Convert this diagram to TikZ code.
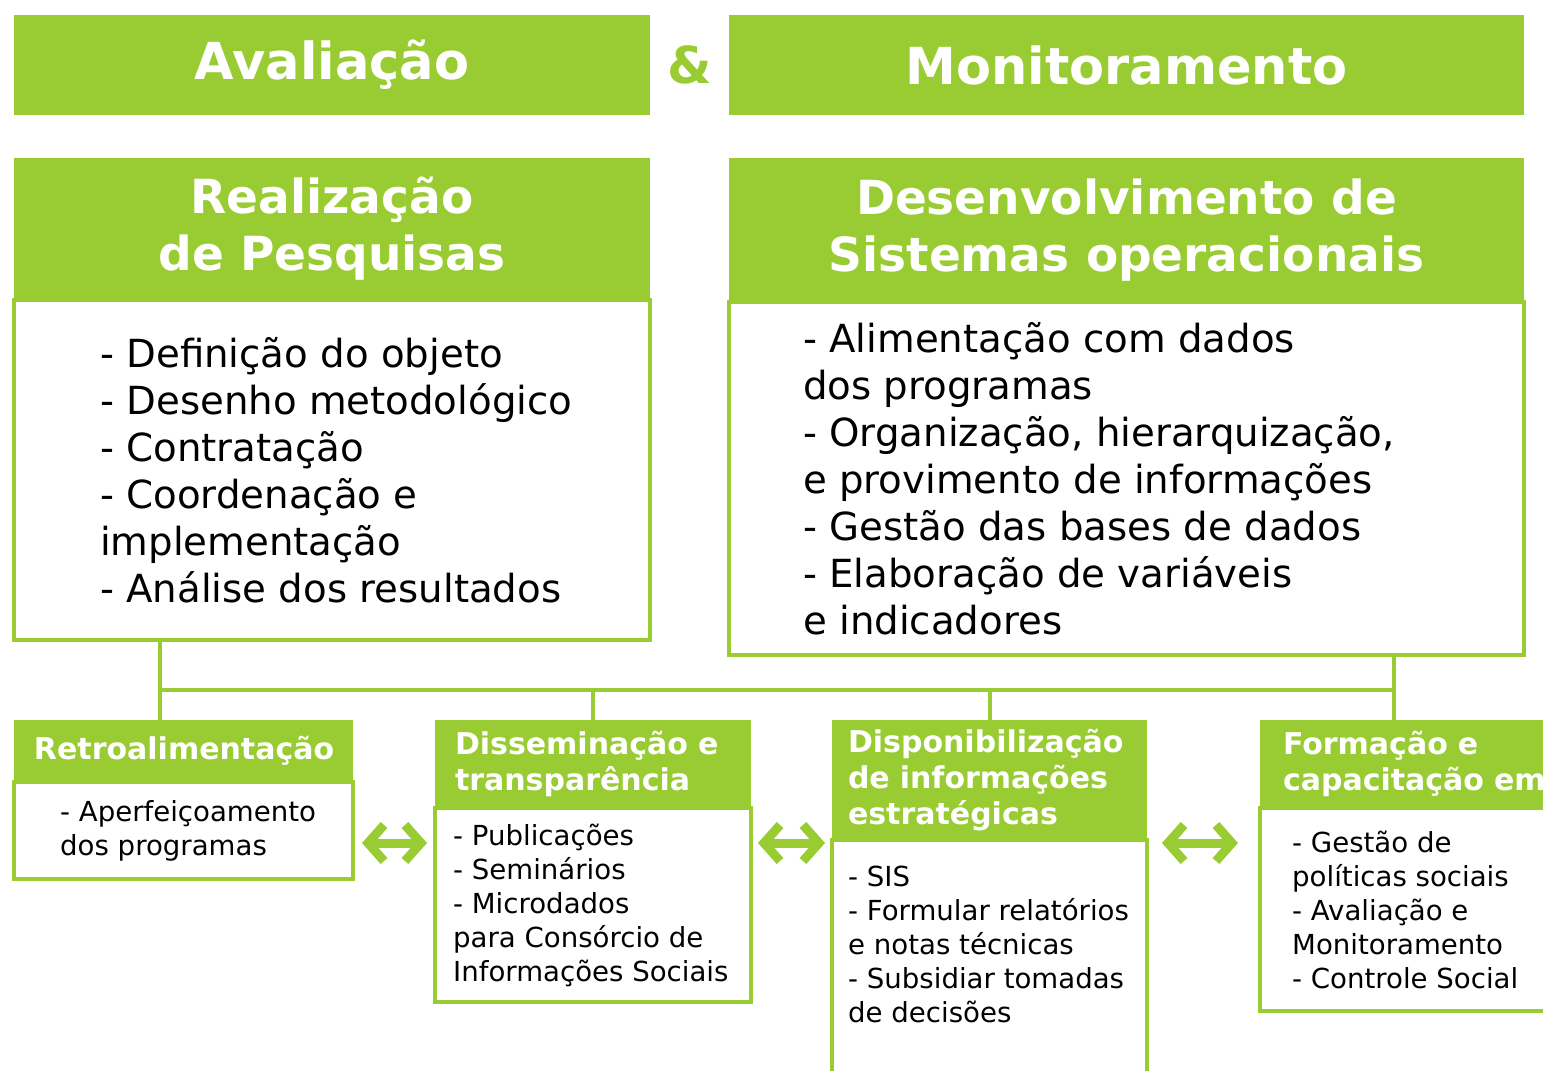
\documentclass[tikz,border=0pt]{standalone}
\usepackage{fontspec}
\setmainfont{DejaVu Sans}
\usetikzlibrary{arrows.meta, positioning, calc}
\definecolor{leafgreen}{RGB}{153,204,51}
\newcommand{\Fsz}[2]{\fontsize{#1}{#2}\selectfont}
\tikzset{
    titlebar/.style={fill=leafgreen, text=white, font=\bfseries\Fsz{51}{60}, align=center, inner sep=0pt, outer sep=0pt, anchor=north west},
    hdr/.style={fill=leafgreen, text=white, font=\bfseries\Fsz{47}{57}, align=center, inner sep=0pt, outer sep=0pt, anchor=north west},
    tabhdr/.style={fill=leafgreen, text=white, font=\bfseries\Fsz{30}{36}, align=left, inner ysep=0pt, outer sep=0pt, anchor=north west},
    panel/.style={draw=leafgreen, line width=4pt, fill=white, inner sep=0pt, outer sep=0pt, anchor=north west},
    bigtxt/.style={text=black, font=\Fsz{38.7}{47}, align=left, inner sep=0pt, anchor=west},
    smalltxt/.style={text=black, font=\Fsz{27.6}{34}, align=left, inner sep=0pt, anchor=west},
    busline/.style={draw=leafgreen, line width=4pt},
    twoway/.style={draw=leafgreen, line width=9pt, >={Straight Barb[length=16pt,width=36pt]}, <->},
}

\begin{document}
\begin{tikzpicture}[x=1pt, y=-1pt]
    \useasboundingbox (0,0) rectangle (1543,1071);
    \clip (0,0) rectangle (1543,1071);

    \node[titlebar, minimum width=636pt, minimum height=100pt] (ava) at (14,15) {Avaliação};
    \node[titlebar, minimum width=795pt, minimum height=100pt] (mon) at (729,15) {Monitoramento};
    \node[font=\bfseries\Fsz{51}{60}, text=leafgreen] (amp) at ($(ava.east)!0.5!(mon.west)$) {\&};

    \node[hdr, minimum width=636pt, minimum height=142pt] (real) at (14,158) {Realização\\de Pesquisas};
    \node[panel, minimum width=636pt, minimum height=340pt] (realb) at (real.south west) {};
    \node[bigtxt] (realt) at ([xshift=86pt]realb.west) {- Definição do objeto\\- Desenho metodológico\\- Contratação\\- Coordenação e\\implementação\\- Análise dos resultados};

    \node[hdr, minimum width=795pt, minimum height=144pt] (des) at (729,158) {Desenvolvimento de\\Sistemas operacionais};
    \node[panel, minimum width=795pt, minimum height=353pt] (desb) at (des.south west) {};
    \node[bigtxt] (dest) at ([xshift=74pt]desb.west) {- Alimentação com dados\\dos programas\\- Organização, hierarquização,\\e provimento de informações\\- Gestão das bases de dados\\- Elaboração de variáveis\\e indicadores};

    \node[tabhdr, minimum width=339pt, minimum height=62pt, text width=299pt, inner xsep=20pt] (retro) at (14,720) {Retroalimentação};
    \node[panel, minimum width=339pt, minimum height=97pt] (retrob) at (retro.south west) {};
    \node[smalltxt] (retrot) at ([xshift=46pt]retrob.west) {- Aperfeiçoamento\\dos programas};

    \node[tabhdr, minimum width=316pt, minimum height=88pt, text width=276pt, inner xsep=20pt] (diss) at (435,720) {Disseminação e\\transparência};
    \node[panel, minimum width=316pt, minimum height=194pt] (dissb) at (diss.south west) {};
    \node[smalltxt] (disst) at ([xshift=18pt]dissb.west) {- Publicações\\- Seminários\\- Microdados\\para Consórcio de\\Informações Sociais};

    \node[tabhdr, minimum width=315pt, minimum height=120pt, text width=283pt, inner xsep=16pt] (disp) at (832,720) {Disponibilização\\de informações\\estratégicas};
    \node[panel, minimum width=315pt, minimum height=280pt] (dispb) at (disp.south west) {};
    \node[smalltxt] (dispt) at ([xshift=16pt, yshift=-104pt]dispb.north west) {- SIS\\- Formular relatórios\\e notas técnicas\\- Subsidiar tomadas\\de decisões};

    \node[tabhdr, minimum width=340pt, minimum height=88pt, text width=294pt, inner xsep=23pt] (form) at (1260,720) {Formação e\\capacitação em};
    \node[panel, minimum width=340pt, minimum height=203pt] (formb) at (form.south west) {};
    \node[smalltxt] (formt) at ([xshift=32pt]formb.west) {- Gestão de\\políticas sociais\\- Avaliação e\\Monitoramento\\- Controle Social};

    \coordinate (busl) at (160,690);
    \coordinate (busr) at (1394,690);
    \draw[busline] (realb.south -| busl) -- (retro.north -| busl);
    \draw[busline] (desb.south -| busr) -- (form.north -| busr);
    \draw[busline] (busl) -- (busr);
    \draw[busline] (diss.north) -- (diss.north |- busl);
    \draw[busline] (disp.north) -- (disp.north |- busl);

    \coordinate (midrow) at (0,843);
    \draw[twoway, shorten <=9pt, shorten >=8pt] (retrob.east |- midrow) -- (dissb.west |- midrow);
    \draw[twoway, shorten <=7pt, shorten >=7pt] (dissb.east |- midrow) -- (dispb.west |- midrow);
    \draw[twoway, shorten <=15pt, shorten >=22pt] (dispb.east |- midrow) -- (formb.west |- midrow);
\end{tikzpicture}
\end{document}
